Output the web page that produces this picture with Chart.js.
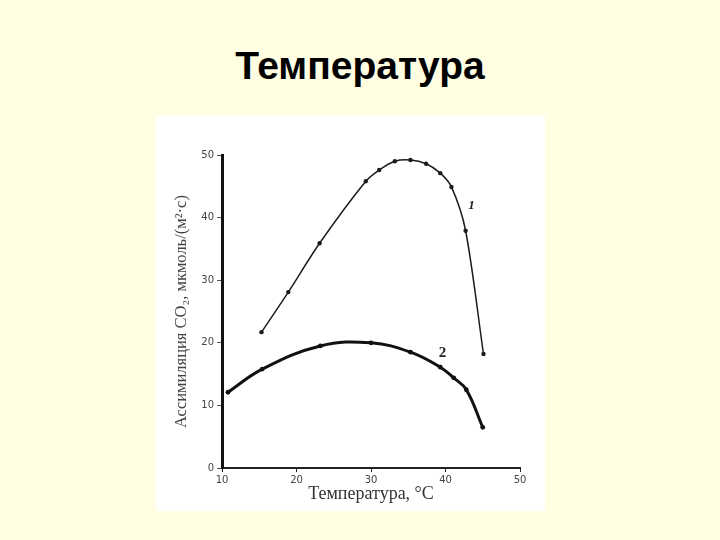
<!DOCTYPE html>
<html>
<head>
<meta charset="utf-8">
<script src="https://cdn.jsdelivr.net/npm/chart.js@4"></script>
<style>
  html, body { margin: 0; padding: 0; }
  body { width: 720px; height: 540px; background: #fffee3; position: relative; overflow: hidden; }
  #title { position: absolute; left: 0; width: 720px; top: 44px; text-align: center;
           font: bold 39px "Liberation Sans", Arial, sans-serif; color: #000; }
  #panel { position: absolute; left: 156px; top: 116px; width: 389px; height: 395px; background: #fff; }
  #chart { position: absolute; left: 0; top: 0; }
</style>
</head>
<body>
<div id="title">Температура</div>
<div id="panel"></div>
<canvas id="chart" width="720" height="540"></canvas>
<script>
// curve 1
const temp1 = [15.3, 18.9, 23.1, 29.3, 31.1, 33.2, 35.3, 37.4, 39.3, 40.8, 42.7, 45.1];
const co2_1 = [21.7, 28.1, 35.9, 45.8, 47.6, 49.0, 49.2, 48.6, 47.1, 44.9, 37.9, 18.2];
// curve 2
const temp2 = [10.8, 15.4, 23.2, 30.0, 35.3, 39.3, 41.1, 42.8, 45.0];
const co2_2 = [12.1, 15.8, 19.5, 20.0, 18.5, 16.1, 14.4, 12.5, 6.5];

const xTicks = [10, 20, 30, 40, 50];
const yTicks = [0, 10, 20, 30, 40, 50];

// curve numbers, placed in data units
const curveLabels = ['1', '2'];
const curveLabelX = [43.5, 39.6];
const curveLabelY = [41.9, 18.4];

const toPoints = (xs, ys) => xs.map((x, i) => ({ x: x, y: ys[i] }));

const curveNumbers = {
  id: 'curveNumbers',
  afterDatasetsDraw(chart) {
    const ctx = chart.ctx;
    ctx.save();
    ctx.fillStyle = '#222';
    ctx.textAlign = 'center';
    ctx.textBaseline = 'middle';
    curveLabels.forEach((t, i) => {
      ctx.font = i === 0 ? 'italic bold 13px "Liberation Serif", serif' : 'bold 15px "Liberation Serif", serif';
      ctx.fillText(t, chart.scales.x.getPixelForValue(curveLabelX[i]),
                      chart.scales.y.getPixelForValue(curveLabelY[i]));
    });
    ctx.restore();
  }
};

new Chart(document.getElementById('chart'), {
  type: 'scatter',
  data: {
    datasets: [{
      data: toPoints(temp1, co2_1),
      showLine: true,
      borderColor: '#1c1c1c',
      backgroundColor: '#1c1c1c',
      borderWidth: 1.5,
      pointRadius: 2.2,
      pointBorderWidth: 0,
      tension: 0.3
    }, {
      data: toPoints(temp2, co2_2),
      showLine: true,
      borderColor: '#111',
      backgroundColor: '#111',
      borderWidth: 3,
      pointRadius: 2.4,
      pointBorderWidth: 0,
      tension: 0.4
    }]
  },
  options: {
    responsive: false,
    animation: false,
    layout: { padding: { left: 172, right: 200, top: 155, bottom: 27 } },
    plugins: { legend: { display: false }, tooltip: { enabled: false } },
    scales: {
      x: {
        type: 'linear', min: 10, max: 50,
        afterBuildTicks: s => { s.ticks = xTicks.map(v => ({ value: v })); },
        afterFit: s => { s.height = 45; },
        grid: { drawOnChartArea: false, drawTicks: true, tickLength: 4, color: '#222' },
        border: { display: true, color: '#222', width: 2 },
        ticks: { color: '#444', padding: 2, font: { size: 10, family: 'DejaVu Sans' } },
        title: { display: true, text: 'Температура, °C', color: '#333',
                 font: { size: 18, family: '"Liberation Serif", serif' }, padding: { top: 2, bottom: 8 } }
      },
      y: {
        type: 'linear', min: 0, max: 50,
        afterBuildTicks: s => { s.ticks = yTicks.map(v => ({ value: v })); },
        afterFit: s => { s.width = 50; },
        grid: { drawOnChartArea: false, drawTicks: true, tickLength: 5, color: '#555' },
        border: { display: true, color: '#111', width: 3 },
        ticks: { color: '#444', padding: 3, font: { size: 10, family: 'DejaVu Sans' } },
        title: { display: true, text: 'Ассимиляция CO₂, мкмоль/(м²·с)', color: '#444',
                 font: { size: 16.5, family: '"Liberation Serif", serif' }, padding: { top: 0, bottom: 0 } }
      }
    }
  },
  plugins: [curveNumbers]
});
</script>
</body>
</html>
